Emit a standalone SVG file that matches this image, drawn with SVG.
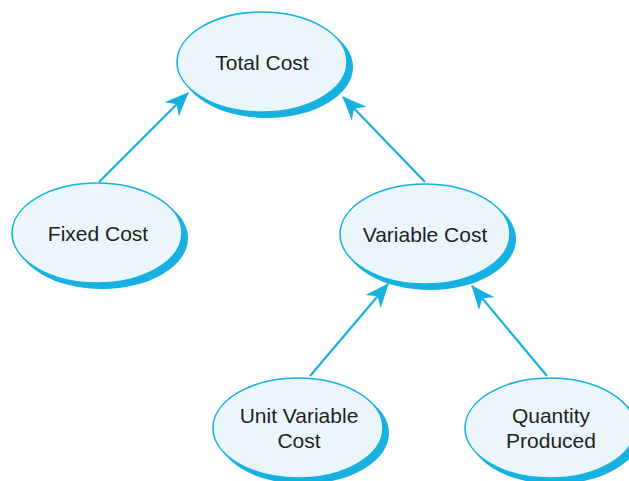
<svg xmlns="http://www.w3.org/2000/svg" width="629" height="481" viewBox="0 0 629 481">
<defs>
<style>
.sh{fill:#16b1e0}
.el{fill:#eaf6fc;stroke:#16b1e0;stroke-width:1.6}
.t{font-family:"Liberation Sans",Arial,sans-serif;font-size:21px;fill:#231f20;text-anchor:middle}
.c{stroke:#16b1e0;stroke-width:2.2;fill:none;marker-end:url(#ah)}
</style>
<marker id="ah" markerWidth="24" markerHeight="20" viewBox="0 0 24 20" refX="23" refY="10" orient="auto" markerUnits="userSpaceOnUse">
<path d="M0,0 L24,10 L0,20 L7,10 Z" fill="#16b1e0"/>
</marker>
</defs>
<rect width="629" height="481" fill="#ffffff"/>
<g id="connectors">
<line class="c" x1="99" y1="182" x2="188" y2="93"/>
<line class="c" x1="425" y1="182" x2="343" y2="97"/>
<line class="c" x1="310" y1="376" x2="388" y2="284"/>
<line class="c" x1="547" y1="376" x2="472" y2="286"/>
</g>
<g id="total-cost">
<ellipse class="sh" cx="267" cy="67" rx="86" ry="51"/>
<ellipse class="el" cx="262" cy="62" rx="85" ry="50"/>
<text class="t" x="262" y="70">Total Cost</text>
</g>
<g id="fixed-cost">
<ellipse class="sh" cx="102" cy="238" rx="86" ry="51"/>
<ellipse class="el" cx="97" cy="233" rx="85" ry="50"/>
<text class="t" x="98" y="241">Fixed Cost</text>
</g>
<g id="variable-cost">
<ellipse class="sh" cx="430" cy="239" rx="86" ry="51"/>
<ellipse class="el" cx="425" cy="234" rx="85" ry="50"/>
<text class="t" x="425" y="242">Variable Cost</text>
</g>
<g id="unit-variable-cost">
<ellipse class="sh" cx="303" cy="433" rx="86" ry="51"/>
<ellipse class="el" cx="298" cy="428" rx="85" ry="50"/>
<text class="t" x="299" y="423">Unit Variable</text>
<text class="t" x="299" y="448">Cost</text>
</g>
<g id="quantity-produced">
<ellipse class="sh" cx="555" cy="433" rx="86" ry="51"/>
<ellipse class="el" cx="550" cy="428" rx="85" ry="50"/>
<text class="t" x="551" y="423">Quantity</text>
<text class="t" x="551" y="448">Produced</text>
</g>
</svg>
